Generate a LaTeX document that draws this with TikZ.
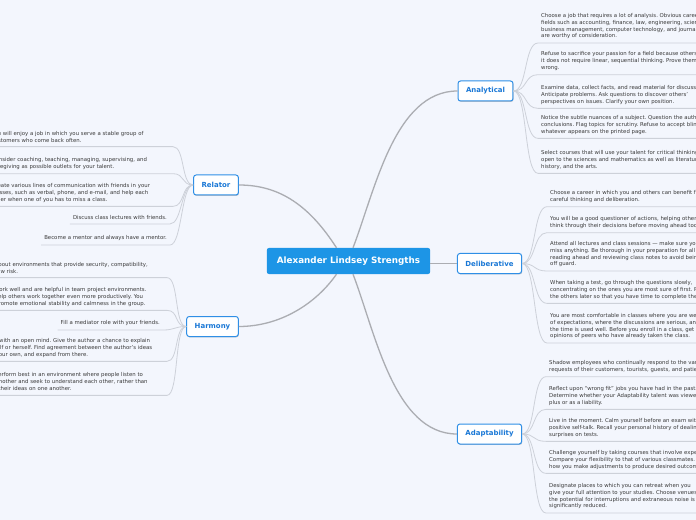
\documentclass[tikz,border=0pt]{standalone}
\usepackage{fontspec}
\usetikzlibrary{shadows}
\newfontfamily\mapfont{DejaVu Sans}
\newcommand\mmLeaf{\mapfont\fontsize{5.4}{6.7}\selectfont\frenchspacing}
\newcommand\mmBranch{\mapfont\bfseries\fontsize{7}{8.4}\selectfont}
\newcommand\mmTitle{\mapfont\bfseries\fontsize{8.8}{10.5}\selectfont}
\definecolor{mapBg}{HTML}{F3F6FD}
\definecolor{mapBlue}{HTML}{1D95E6}
\definecolor{mapEdge}{HTML}{2F8FE6}
\definecolor{mapText}{HTML}{1A78D6}
\definecolor{mapGrey}{HTML}{ABADB2}
\definecolor{mapLine}{HTML}{CDD1D9}
\definecolor{mapInk}{HTML}{3A3A3A}
\begin{document}
\begin{tikzpicture}[x=1bp,y=-1bp,
    topic/.style={fill=mapBlue,text=white,font=\mmTitle,rounded corners=2bp,
                  minimum height=26bp,inner xsep=10bp},
    branch/.style={draw=mapEdge,fill=white,text=mapText,font=\mmBranch,line width=1bp,
                  rounded corners=2.5bp,minimum height=20bp,inner xsep=8bp,
                  drop shadow={shadow xshift=0.6bp,shadow yshift=-0.9bp,opacity=0.2,fill=black}},
    leaf/.style={font=\mmLeaf,text=mapInk,align=left,inner xsep=3bp,inner ysep=4bp},
    trunk/.style={draw=mapGrey,line width=1.3bp},
    twig/.style={draw=mapLine,line width=0.8bp}]
  \useasboundingbox (0,0) rectangle (696,520);
  \clip (0,0) rectangle (696,520);
  \fill[mapBg] (0,0) rectangle (696,520);

  \node[topic]  (center)       at (348.5,261)   {Alexander Lindsey Strengths};
  \node[branch] (analytical)   at (485.5,91)    {Analytical};
  \node[branch] (deliberative) at (489.5,263.5) {Deliberative};
  \node[branch] (adaptability) at (489.5,434)   {Adaptability};
  \node[branch] (relator)      at (216,185)     {Relator};
  \node[branch] (harmony)      at (212.5,326.5) {Harmony};

  \node[leaf,anchor=north west] (an1) at (538,9.4)   {Choose a job that requires a lot of analysis. Obvious career\\fields such as accounting, finance, law, engineering, science,\\business management, computer technology, and journalism\\are worthy of consideration.};
  \node[leaf,anchor=north west] (an2) at (538,47.7)  {Refuse to sacrifice your passion for a field because others say\\it does not require linear, sequential thinking. Prove them\\wrong.};
  \node[leaf,anchor=north west] (an3) at (538,81.4)  {Examine data, collect facts, and read material for discussion.\\Anticipate problems. Ask questions to discover others’\\perspectives on issues. Clarify your own position.};
  \node[leaf,anchor=north west] (an4) at (538,111.4) {Notice the subtle nuances of a subject. Question the author’s\\conclusions. Flag topics for scrutiny. Refuse to accept blindly\\whatever appears on the printed page.};
  \node[leaf,anchor=north west] (an5) at (538,146.4) {Select courses that will use your talent for critical thinking. Be\\open to the sciences and mathematics as well as literature,\\history, and the arts.};

  \node[leaf,anchor=north west] (de1) at (547,186.4) {Choose a career in which you and others can benefit from your\\careful thinking and deliberation.};
  \node[leaf,anchor=north west] (de2) at (547,212.4) {You will be a good questioner of actions, helping others\\think through their decisions before moving ahead too quickly.};
  \node[leaf,anchor=north west] (de3) at (547,237.4) {Attend all lectures and class sessions — make sure you don’t\\miss anything. Be thorough in your preparation for all classes,\\reading ahead and reviewing class notes to avoid being caught\\off guard.};
  \node[leaf,anchor=north west] (de4) at (547,276.4) {When taking a test, go through the questions slowly,\\concentrating on the ones you are most sure of first. Return to\\the others later so that you have time to complete them.};
  \node[leaf,anchor=north west] (de5) at (547,309.4) {You are most comfortable in classes where you are well aware\\of expectations, where the discussions are serious, and where\\the time is used well. Before you enroll in a class, get the\\opinions of peers who have already taken the class.};

  \node[leaf,anchor=north west] (ad1) at (546,356.4) {Shadow employees who continually respond to the various\\requests of their customers, tourists, guests, and patients.};
  \node[leaf,anchor=north west] (ad2) at (546,382.4) {Reflect upon “wrong fit” jobs you have had in the past.\\Determine whether your Adaptability talent was viewed as a\\plus or as a liability.};
  \node[leaf,anchor=north west] (ad3) at (546,414.4) {Live in the moment. Calm yourself before an exam with\\positive self-talk. Recall your personal history of dealing with\\surprises on tests.};
  \node[leaf,anchor=north west] (ad4) at (546,446.4) {Challenge yourself by taking courses that involve experiential learning.\\Compare your flexibility to that of various classmates. Notice\\how you make adjustments to produce desired outcomes.};
  \node[leaf,anchor=north west] (ad5) at (546,479.4) {Designate places to which you can retreat when you\\give your full attention to your studies. Choose venues where\\the potential for interruptions and extraneous noise is\\significantly reduced.};

  \node[leaf,anchor=north east,text width=178bp] (re1) at (173,127.4) {You will enjoy a job in which you serve a stable group of\\customers who come back often.};
  \node[leaf,anchor=north east,text width=178bp] (re2) at (173,153.4) {Consider coaching, teaching, managing, supervising, and\\caregiving as possible outlets for your talent.};
  \node[leaf,anchor=north east,text width=178bp] (re3) at (173,179.4) {Create various lines of communication with friends in your\\classes, such as verbal, phone, and e-mail, and help each\\other when one of you has to miss a class.};
  \node[leaf,anchor=north east] (re4) at (170,211.4) {Discuss class lectures with friends.};
  \node[leaf,anchor=north east] (re5) at (170,231.4) {Become a mentor and always have a mentor.};

  \node[leaf,anchor=north east,text width=180bp] (ha1) at (167,258.4) {Ask about environments that provide security, compatibility,\\and low risk.};
  \node[leaf,anchor=north east,text width=180bp] (ha2) at (167,283.4) {You work well and are helpful in team project environments.\\You help others work together even more productively. You\\can promote emotional stability and calmness in the group.};
  \node[leaf,anchor=north east] (ha3) at (163,316.4) {Fill a mediator role with your friends.};
  \node[leaf,anchor=north east,text width=180bp] (ha4) at (167,334.4) {Read with an open mind. Give the author a chance to explain\\himself or herself. Find agreement between the author’s ideas\\and your own, and expand from there.};
  \node[leaf,anchor=north east,text width=180bp] (ha5) at (167,368.4) {You perform best in an environment where people listen to\\one another and seek to understand each other, rather than\\push their ideas on one another.};

  \draw[trunk] ([xshift=-12bp]center.north) .. controls +(-27,-42) and +(41,0) .. (relator.east);
  \draw[trunk] ([xshift=4.5bp]center.north) .. controls +(22,-57) and +(-63,0) .. (analytical.west);
  \draw[trunk] ([xshift=-12bp]center.south) .. controls +(-21,30) and +(41,0) .. (harmony.east);
  \draw[trunk] ([xshift=4.5bp]center.south) .. controls +(22,57) and +(-63,0) .. (adaptability.west);
  \draw[trunk] (center.east |- deliberative.west) -- (deliberative.west);

  \foreach \b/\l in {analytical/an,deliberative/de,adaptability/ad}
    \foreach \i in {1,...,5}
      \draw[twig] (\b.east) .. controls +(14,0) and +(-14,0) .. (\l\i.south west) -- (\l\i.south east);
  \foreach \b/\l in {relator/re,harmony/ha}
    \foreach \i in {1,...,5}
      \draw[twig] (\b.west) .. controls +(-12,0) and +(12,0) .. (\l\i.south east) -- (\l\i.south west);
\end{tikzpicture}
\end{document}
